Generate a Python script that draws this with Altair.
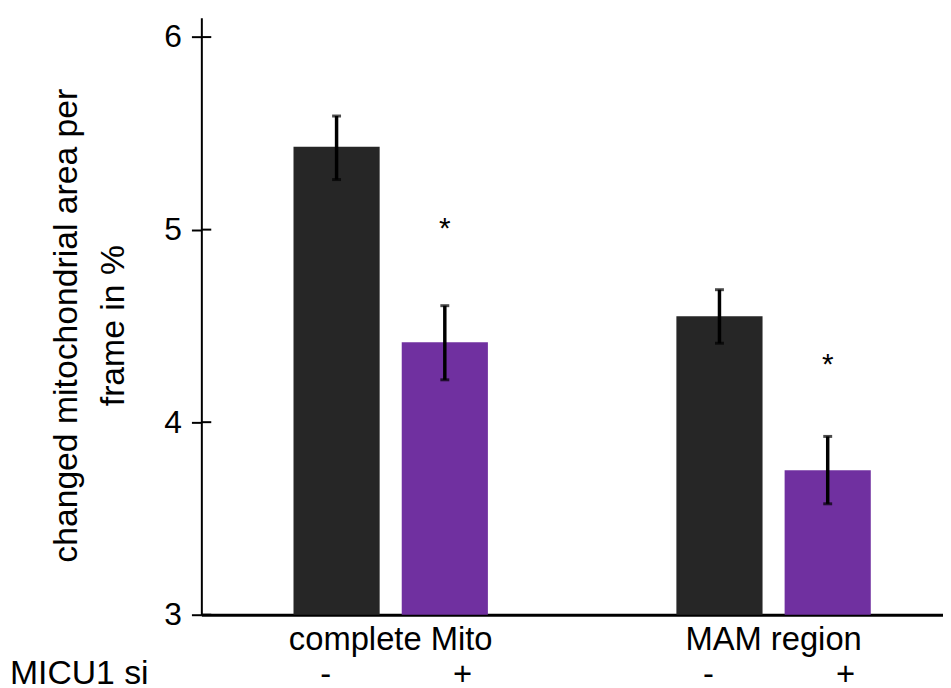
import altair as alt
import pandas as pd

# ---- data ----
groups = ["complete Mito", "complete Mito", "MAM region", "MAM region"]
micu1_si = ["-", "+", "-", "+"]
means = [5.43, 4.415, 4.55, 3.75]
err_low = [5.26, 4.22, 4.41, 3.576]
err_high = [5.59, 4.605, 4.688, 3.926]
stars = ["", "*", "", "*"]
star_y = [None, 4.955, None, 4.25]
y_ticks = [3, 4, 5, 6]
group_order = ["complete Mito", "MAM region"]
si_order = ["-", "+"]
bar_colors = ["#262626", "#7030A0"]
row_label = ["MICU1 si"]
Y_MIN, Y_MAX = 3, 6.1

FONT = "Liberation Sans"
W, H = 748, 602

df = pd.DataFrame(dict(group=groups, si=micu1_si, mean=means, lo=err_low,
                       hi=err_high, star=stars, star_y=star_y))
ticks_df = pd.DataFrame({"t": y_ticks})
row_df = pd.DataFrame({"label": row_label})

x_enc = alt.X("group:N", sort=group_order,
              scale=alt.Scale(domain=group_order, paddingInner=0.2,
                              paddingOuter=0.0685, align=0.69),
              axis=alt.Axis(title=None, labelAngle=0, ticks=False, domainWidth=3,
                            domainColor="black", labelFontSize=33, labelFont=FONT,
                            labelColor="black", labelPadding=9, labelLimit=0))
xo_enc = alt.XOffset("si:N", sort=si_order,
                     scale=alt.Scale(domain=si_order, paddingInner=0.204,
                                     paddingOuter=0.517))
y_scale = alt.Scale(domain=[Y_MIN, Y_MAX], zero=False, nice=False)
y_axis = alt.Axis(title=["changed mitochondrial area per", "frame in %"],
                  values=y_ticks, grid=False, tickSize=10, tickWidth=2,
                  tickColor="black", domainWidth=2, domainColor="black",
                  labelFontSize=32, labelFont=FONT, labelColor="black",
                  labelPadding=10, titleFontSize=34, titleFont=FONT,
                  titleFontWeight="normal", titleColor="black",
                  titlePadding=34, titleLineHeight=47, titleY=310)

base = alt.Chart(df)

bars = base.mark_bar().encode(
    x=x_enc, xOffset=xo_enc,
    y=alt.Y("mean:Q", scale=y_scale, axis=y_axis),
    y2=alt.datum(Y_MIN),
    color=alt.Color("si:N", scale=alt.Scale(domain=si_order, range=bar_colors),
                    legend=None),
)

err = base.mark_rule(strokeWidth=3.5, color="black").encode(
    x=x_enc, xOffset=xo_enc,
    y=alt.Y("lo:Q", scale=y_scale, axis=y_axis), y2="hi:Q")

cap_lo = base.mark_tick(size=9, thickness=3, color="black").encode(
    x=x_enc, xOffset=xo_enc, y=alt.Y("lo:Q", scale=y_scale, axis=y_axis))
cap_hi = base.mark_tick(size=9, thickness=3, color="black").encode(
    x=x_enc, xOffset=xo_enc, y=alt.Y("hi:Q", scale=y_scale, axis=y_axis))

star_txt = base.transform_filter("datum.star != ''").mark_text(
    fontSize=30, font=FONT, baseline="alphabetic", color="black").encode(
    x=x_enc, xOffset=xo_enc, y=alt.Y("star_y:Q", scale=y_scale, axis=y_axis),
    text="star:N")

inner_ticks = alt.Chart(ticks_df).mark_rule(strokeWidth=2, color="black").encode(
    x=alt.value(0), x2=alt.value(10), y=alt.Y("t:Q", scale=y_scale, axis=y_axis))

minus_txt = base.transform_filter("datum.si == '-'").mark_text(
    fontSize=33, font=FONT, baseline="alphabetic", color="black", dx=-11).encode(
    x=x_enc, xOffset=xo_enc, y=alt.value(673), text="si:N")
plus_txt = base.transform_filter("datum.si == '+'").mark_text(
    fontSize=33, font=FONT, baseline="alphabetic", color="black", dx=18).encode(
    x=x_enc, xOffset=xo_enc, y=alt.value(673), text="si:N")

row_txt = alt.Chart(row_df).mark_text(
    fontSize=34, font=FONT, baseline="alphabetic", align="left", color="black").encode(
    x=alt.value(-193), y=alt.value(672), text="label:N")

chart = alt.layer(bars, err, cap_lo, cap_hi, star_txt, inner_ticks,
                  minus_txt, plus_txt, row_txt).properties(
    width=W, height=H,
    autosize=alt.AutoSizeParams(type="none"),
    padding={"left": 195, "top": 7, "right": 0, "bottom": 71},
    background="white",
).configure_view(stroke=None)

chart.save("out.html", embed_options={"renderer": "svg", "actions": False})
